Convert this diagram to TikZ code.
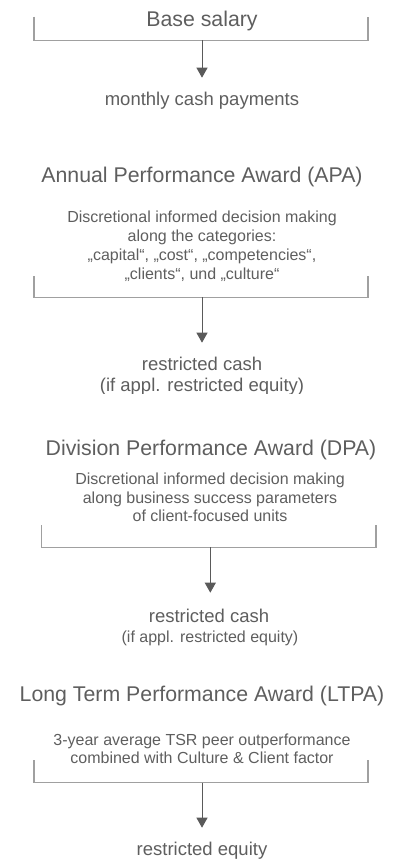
\documentclass[tikz,border=0pt]{standalone}
\usepackage{fontspec}
\setmainfont{Liberation Sans}
\usetikzlibrary{arrows.meta}
\definecolor{txt}{HTML}{5E5E5E}
\definecolor{brk}{HTML}{A0A0A0}
\definecolor{arr}{HTML}{5A5A5A}
\tikzset{
  x=1pt, y=-1pt,
  title/.style={anchor=base, inner sep=0pt, text=txt, font=\fontsize{21.3}{25}\selectfont},
  result/.style={anchor=base, inner sep=0pt, text=txt, font=\fontsize{18.5}{21}\selectfont},
  desc/.style={anchor=base, inner sep=0pt, text=txt, align=center, font=\fontsize{16}{18.9}\selectfont},
  small/.style={anchor=base, inner sep=0pt, text=txt, font=\fontsize{16}{19}\selectfont},
  bracket/.style={draw=brk, line width=1.2pt},
  flow/.style={draw=arr, line width=1pt, -{Triangle[width=11pt,length=10pt]}},
}
\begin{document}
\begin{tikzpicture}
\useasboundingbox (0,0) rectangle (397,861);
% Section 1
\node[title] (base) at (202,26.7) {Base salary};
\coordinate (b1l) at (34,16.7); \coordinate (b1r) at (368,16.7);
\coordinate (b1m) at (202,40.5);
\draw[bracket] (b1l) |- (b1m) -| (b1r);
\coordinate (t1) at (202,77.7);
\draw[flow] (b1m) -- (t1);
\node[result] (monthly) at (202,106) {monthly cash payments};
% Section 2
\node[title] (apa) at (202,182.7) {Annual Performance Award (APA)};
\node[desc, anchor=north] (apad) at (202,211) {Discretional informed decision making\\along the categories:\\„capital“, „cost“, „competencies“,\\„clients“, und „culture“};
\coordinate (b2l) at (34,276); \coordinate (b2r) at (368,276);
\coordinate (b2m) at (202,297.3);
\draw[bracket] (b2l) |- (b2m) -| (b2r);
\coordinate (t2) at (202,342.7);
\draw[flow] (b2m) -- (t2);
\node[result] (apac) at (202,370.7) {restricted cash};
\begin{scope}
\clip (0,375) rectangle (397,393.5);
\node[result] (apae) at (202,391.5) {(if appl. restricted equity)};
\end{scope}
% Section 3
\node[title] (dpa) at (211,455.7) {Division Performance Award (DPA)};
\node[desc, anchor=north] (dpad) at (210,472.3) {Discretional informed decision making\\along business success parameters\\of client-focused units};
\coordinate (b3l) at (41.7,525); \coordinate (b3r) at (376,525);
\coordinate (b3m) at (210.3,547.3);
\draw[bracket] (b3l) |- (b3m) -| (b3r);
\coordinate (t3) at (210.3,592.7);
\draw[flow] (b3m) -- (t3);
\node[result] (dpac) at (209,622.7) {restricted cash};
\node[small] (dpae) at (210,642.7) {(if appl. restricted equity)};
% Section 4
\node[title] (ltpa) at (202,701) {Long Term Performance Award (LTPA)};
\node[desc, anchor=north] (ltpad) at (202,733.3) {3-year average TSR peer outperformance\\combined with Culture \& Client factor};
\coordinate (b4l) at (34,760); \coordinate (b4r) at (368,760);
\coordinate (b4m) at (202,782.7);
\draw[bracket] (b4l) |- (b4m) -| (b4r);
\coordinate (t4) at (202,827.7);
\draw[flow] (b4m) -- (t4);
\node[result] (ltpae) at (202,855) {restricted equity};
\end{tikzpicture}
\end{document}
